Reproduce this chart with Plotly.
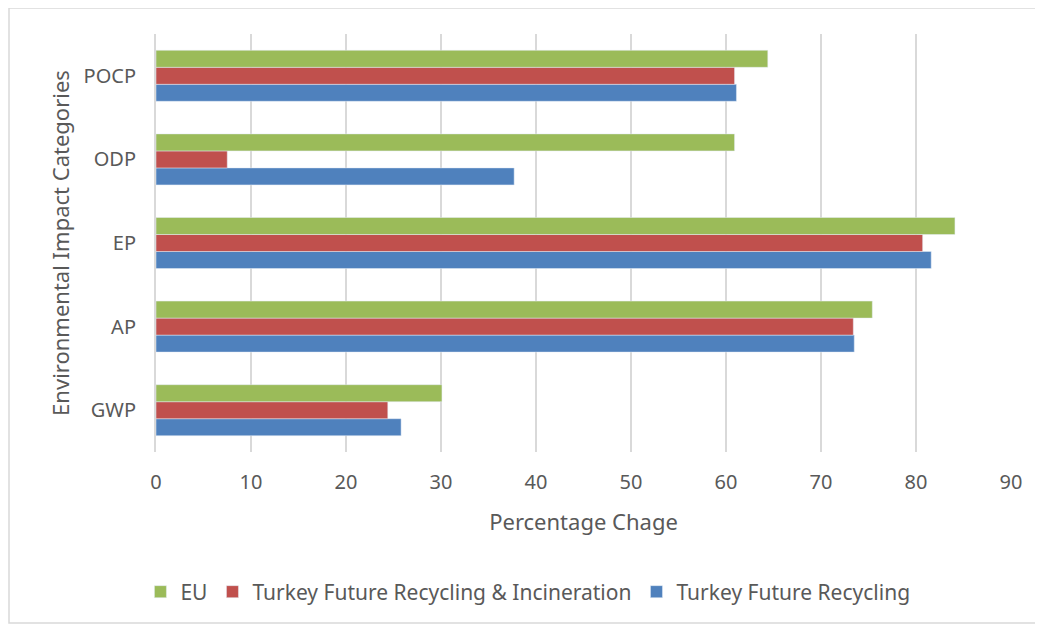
import plotly.graph_objects as go

categories = ["GWP", "AP", "EP", "ODP", "POCP"]
eu = [30.1, 75.4, 84.1, 60.9, 64.4]
turkey_rec_inc = [24.4, 73.4, 80.7, 7.5, 60.9]
turkey_rec = [25.8, 73.5, 81.6, 37.7, 61.1]
x_ticks = [0, 10, 20, 30, 40, 50, 60, 70, 80, 90]

FONT = "Noto Sans"
TXT = "#595959"

# plot area in figure pixels
L, R, T, B = 148, 40, 26, 186
W, H = 1043, 630
PW, PH = W - L - R, H - T - B

fig = go.Figure()
fig.add_trace(go.Bar(y=categories, x=turkey_rec, orientation="h",
                     name="Turkey Future Recycling", marker_color="#4F81BD"))
fig.add_trace(go.Bar(y=categories, x=turkey_rec_inc, orientation="h",
                     name="Turkey Future Recycling & Incineration", marker_color="#C0504D"))
fig.add_trace(go.Bar(y=categories, x=eu, orientation="h",
                     name="EU", marker_color="#9BBB59"))

fig.update_layout(
    width=W, height=H,
    paper_bgcolor="white", plot_bgcolor="white",
    margin=dict(l=L, r=R, t=T, b=B),
    barmode="group", bargap=0.39, bargroupgap=0,
    font=dict(family=FONT, color=TXT, size=20),
    legend=dict(orientation="h", traceorder="reversed", x=0.435, xanchor="center",
                y=(PH - (584 - T)) / PH, yanchor="middle", font=dict(size=21, color=TXT)),
    xaxis=dict(range=[0, 90], tickvals=x_ticks, showgrid=True, gridcolor="#D9D9D9",
               gridwidth=2, zeroline=False, showline=False, ticks="",
               ticklabelstandoff=16,
               title=dict(text="Percentage Chage", font=dict(size=22, color=TXT), standoff=20),
               tickfont=dict(size=20, color=TXT)),
    yaxis=dict(showline=True, linecolor="#D9D9D9", linewidth=2, ticks="",
               ticklabelstandoff=14,
               title=dict(text="Environmental Impact Categories", font=dict(size=22, color=TXT), standoff=8),
               tickfont=dict(size=20, color=TXT)),
    shapes=[dict(type="rect", xref="paper", yref="paper",
                 x0=(1 - L) / PW, x1=(1028 - L) / PW,
                 y0=(PH - (615 - T)) / PH, y1=(PH - (0 - T)) / PH,
                 line=dict(color="#D9D9D9", width=1.5), fillcolor="rgba(0,0,0,0)")],
)

fig.write_html("out.html")
